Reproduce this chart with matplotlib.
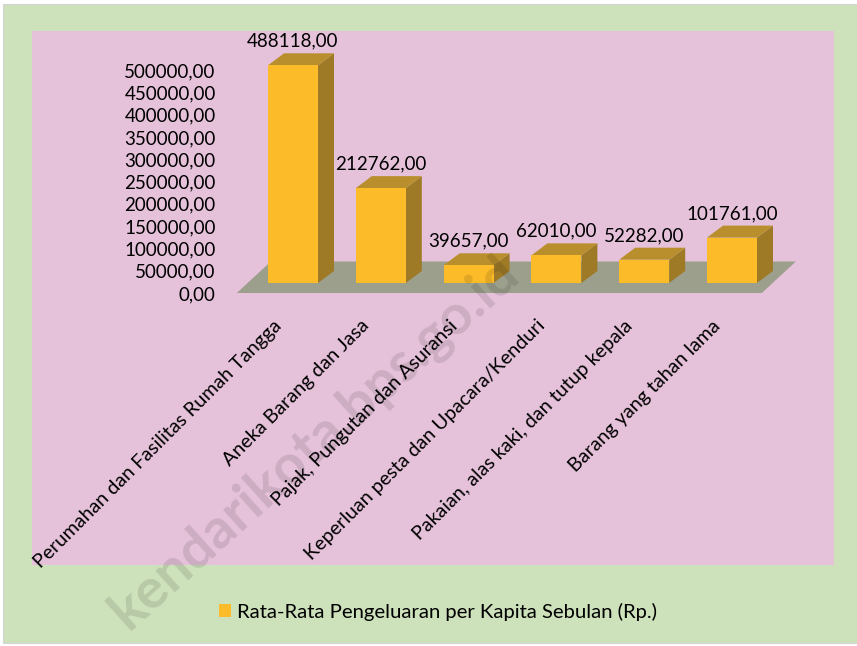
import matplotlib.pyplot as plt
from matplotlib.patches import Polygon, Rectangle, Patch

categories = [
    "Perumahan dan Fasilitas Rumah Tangga",
    "Aneka Barang dan Jasa",
    "Pajak, Pungutan dan Asuransi",
    "Keperluan pesta dan Upacara/Kenduri",
    "Pakaian, alas kaki, dan tutup kepala",
    "Barang yang tahan lama",
]
values = [488118, 212762, 39657, 62010, 52282, 101761]
y_ticks = list(range(0, 500001, 50000))
series_name = "Rata-Rata Pengeluaran per Kapita Sebulan (Rp.)"
watermark = "kendarikota.bps.go.id"

GREEN = "#cde1bb"
PINK = "#e5c2da"
FRONT = "#fcbb29"
SIDE = "#9e7a26"
TOP = "#b98f2d"
FLOOR = "#9d9f8d"

plt.rcParams["font.family"] = ["Lato", "DejaVu Sans"]

W, H = 857, 646
fig = plt.figure(figsize=(W / 100, H / 100), dpi=100)
fig.patch.set_facecolor("white")


def fx(px):
    return px / W


def fy(py):
    return 1 - py / H


# background panels (chart area / plot area)
fig.patches.append(Rectangle((fx(3), fy(643)), fx(857) - fx(3), fy(4) - fy(643),
                             transform=fig.transFigure, facecolor=GREEN,
                             edgecolor="#d4d4d4", lw=0.8, zorder=-3))
fig.patches.append(Rectangle((fx(32), fy(565)), fx(834) - fx(32), fy(31) - fy(565),
                             transform=fig.transFigure, facecolor=PINK,
                             edgecolor="none", zorder=-2))

# data units per pixel
PX_X = 1 / 87.8
PX_Y = 500000 / 223

ax = fig.add_axes([fx(222), fy(565), fx(834) - fx(222), fy(31) - fy(565)])
ax.patch.set_alpha(0)
ax.set_xlim((222 - 293) * PX_X, (834 - 293) * PX_X)
ax.set_ylim(-(565 - 293) * PX_Y, (293 - 31) * PX_Y)
for s in ax.spines.values():
    s.set_visible(False)
ax.set_xticks([])
ax.set_yticks(y_ticks)
ax.set_yticklabels([f"{t},00" for t in y_ticks])
ax.tick_params(axis="y", length=0, pad=4.5, labelsize=13.5)

# floor
n = len(values)
fl_x0, fl_x1 = -0.5 - 0.14, n - 0.5 - 0.16
fl_dx, fl_dy = 34 * PX_X, 31.5 * PX_Y
ax.add_patch(Polygon([(fl_x0, 0), (fl_x1, 0), (fl_x1 + fl_dx, fl_dy), (fl_x0 + fl_dx, fl_dy)],
                     closed=True, facecolor=FLOOR, edgecolor="none", zorder=1))

# 3d bars
bw = 50 * PX_X
base = 10 * PX_Y
dx, dy = 16 * PX_X, 12 * PX_Y
for i, v in enumerate(values):
    xl = i - bw / 2
    xr = i + bw / 2
    top = base + v
    ax.add_patch(Polygon([(xr, base), (xr + dx, base + dy), (xr + dx, top + dy), (xr, top)],
                         closed=True, facecolor=SIDE, edgecolor="none", zorder=2))
    ax.add_patch(Polygon([(xl, top), (xr, top), (xr + dx, top + dy), (xl + dx, top + dy)],
                         closed=True, facecolor=TOP, edgecolor="none", zorder=2))
    ax.add_patch(Rectangle((xl, base), bw, v, facecolor=FRONT, edgecolor="none", zorder=3))
    ax.text(i, top + 24 * PX_Y, f"{v},00", ha="center", va="center", fontsize=13.5, zorder=5)

# category labels
for i, cat in enumerate(categories):
    ax.text(i - 14 * PX_X, -30 * PX_Y, cat, rotation=45, rotation_mode="anchor",
            ha="right", va="center", fontsize=14.2)

fig.legend(handles=[Patch(facecolor=FRONT, edgecolor="none")], labels=[series_name],
           loc="center", bbox_to_anchor=(fx(438), fy(612)), frameon=False,
           handlelength=0.6, handleheight=0.6, handletextpad=0.3, fontsize=14.6)

fig.text(fx(314), fy(442), watermark, rotation=42, ha="center", va="center",
         fontsize=40, fontweight="bold", color="black", alpha=0.11, zorder=10)

fig.savefig("out.png", dpi=100)
